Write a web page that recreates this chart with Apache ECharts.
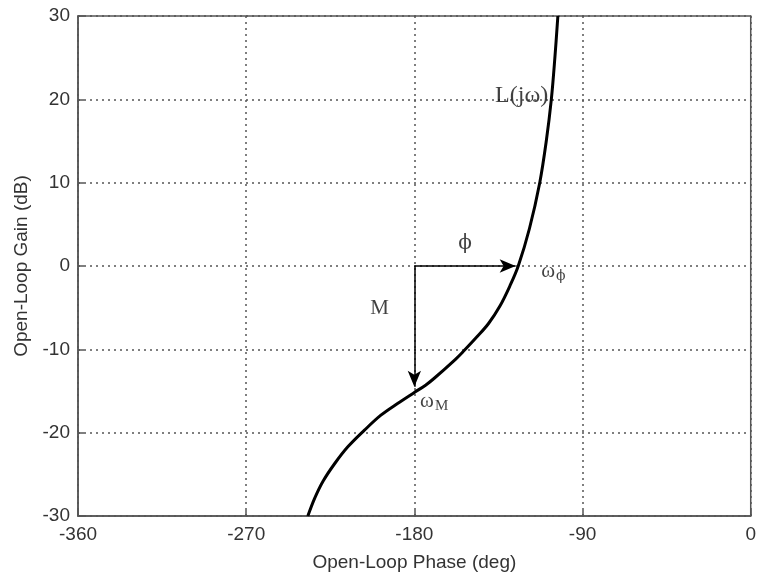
<!DOCTYPE html>
<html>
<head>
<meta charset="utf-8">
<script src="https://cdn.jsdelivr.net/npm/echarts@6/dist/echarts.min.js"></script>
<style>
  html, body { margin: 0; padding: 0; background: #fff; }
  #chart { width: 759px; height: 577px; }
</style>
</head>
<body>
<div id="chart"></div>
<script>
// open-loop curve L(jw): [phase deg, gain dB]
var phase = [-237.0, -233.2, -228.8, -222.6, -215.6, -206.7, -197.9, -189.0, -180.2, -174.0, -169.5, -158.0, -154.0, -146.5, -140.3, -134.2, -128.9, -124.4, -118.4, -112.9, -109.4, -106.7, -104.8, -103.2];
var gain  = [-30.0, -27.8, -25.8, -23.7, -21.7, -19.7, -17.9, -16.5, -15.2, -14.3, -13.5, -11.2, -10.3, -8.5, -6.9, -4.8, -2.4, 0.0, 4.5, 10.0, 15.0, 20.0, 25.0, 30.0];

// arrows: phase margin and gain margin
var origin = [-180, 0];
var phiEnd = [-125.8, 0];
var mEnd = [-180, -14.5];

// annotation texts [phase, gain, key]
var notes = [
  [-122.6, 20.4, 'L'],
  [-152.9, 2.7, 'phi'],
  [-198.6, -5.1, 'M'],
  [-105.6, -0.6, 'wphi'],
  [-169.4, -16.2, 'wM']
];

var curve = phase.map(function (p, i) { return [p, gain[i]]; });

var axisFont = { fontFamily: 'Liberation Sans', fontSize: 19, color: '#333' };
var serif = 'Liberation Serif';

var chart = echarts.init(document.getElementById('chart'));
chart.setOption({
  animation: false,
  grid: {
    left: 78, right: 3, top: 16, bottom: 57,
    show: true, borderColor: '#555', borderWidth: 1.5
  },
  xAxis: {
    type: 'value', min: -360, max: 0, interval: 90,
    name: 'Open-Loop Phase (deg)', nameLocation: 'middle', nameGap: 37,
    nameTextStyle: axisFont,
    axisLine: { onZero: false, lineStyle: { color: '#555', width: 1.5 } },
    axisTick: { inside: true, length: 6, lineStyle: { color: '#555', width: 1.5 } },
    axisLabel: Object.assign({ margin: 9 }, axisFont),
    splitLine: { lineStyle: { type: [2, 4], color: '#555', width: 1.5 } }
  },
  yAxis: {
    type: 'value', min: -30, max: 30, interval: 10,
    name: 'Open-Loop Gain (dB)', nameLocation: 'middle', nameGap: 45,
    nameTextStyle: axisFont,
    axisLine: { onZero: false, lineStyle: { color: '#555', width: 1.5 } },
    axisTick: { inside: true, length: 6, lineStyle: { color: '#555', width: 1.5 } },
    axisLabel: Object.assign({ margin: 8 }, axisFont),
    splitLine: { lineStyle: { type: [2, 4], color: '#555', width: 1.5 } }
  },
  series: [
    {
      type: 'line',
      data: curve,
      smooth: 0.35,
      showSymbol: false,
      lineStyle: { color: '#000', width: 3 },
      markLine: {
        silent: true,
        symbol: ['none', 'arrow'],
        symbolSize: [10, 16],
        label: { show: false },
        lineStyle: { color: '#000', width: 1.5, type: 'solid' },
        data: [
          [{ coord: origin }, { coord: phiEnd }],
          [{ coord: origin }, { coord: mEnd }]
        ]
      }
    },
    {
      type: 'scatter',
      data: notes,
      symbolSize: 0,
      label: {
        show: true,
        position: 'inside',
        color: '#111',
        fontFamily: serif,
        fontSize: 21,
        formatter: function (p) {
          var k = p.value[2];
          if (k === 'L') return '{l|L(jω)}';
          if (k === 'phi') return '{p|ϕ}';
          if (k === 'M') return 'M';
          if (k === 'wphi') return '{w|ω}{s|ϕ}';
          return '{w|ω}{m|M}';
        },
        rich: {
          l: { fontFamily: serif, fontSize: 24, color: '#111' },
          p: { fontFamily: 'DejaVu Serif', fontSize: 20, color: '#111' },
          w: { fontFamily: serif, fontSize: 21, color: '#111' },
          s: { fontFamily: 'DejaVu Serif', fontSize: 14, color: '#111', padding: [10, 0, 0, 1] },
          m: { fontFamily: serif, fontSize: 15, color: '#111', padding: [10, 0, 0, 1] }
        }
      }
    }
  ]
});
</script>
</body>
</html>
